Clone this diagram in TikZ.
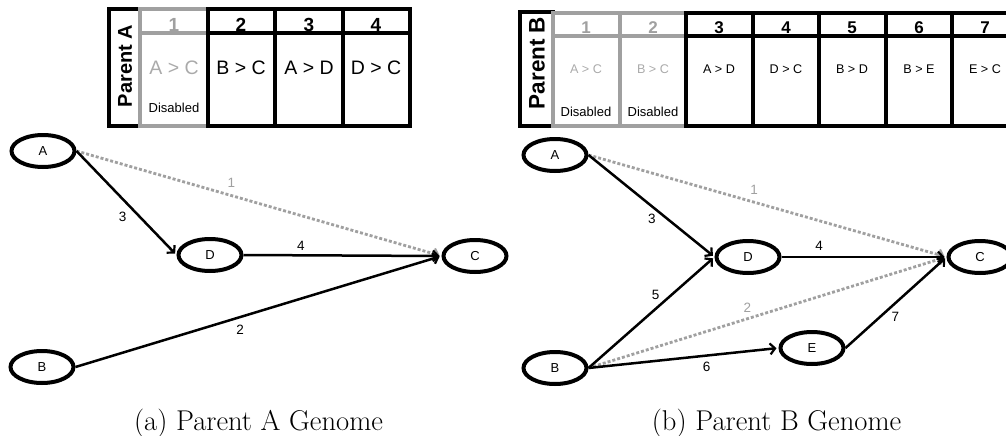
\documentclass[tikz,border=0pt]{standalone}
\usepackage{fontspec}
\newfontfamily\arial{Liberation Sans}
\usetikzlibrary{shapes.geometric,arrows.meta}
\definecolor{rulegrey}{HTML}{A0A0A0}
\definecolor{textgrey}{HTML}{AAAAAA}
\tikzset{
  tblblack/.style={draw=black, line width=4pt},
  tblgrey/.style={draw=rulegrey, line width=4pt},
  ptitle/.style={font=\arial\bfseries\fontsize{#1}{#1}\selectfont, rotate=90, inner sep=0pt},
  hnum/.style={font=\arial\bfseries\fontsize{#1}{#1}\selectfont, inner sep=0pt},
  gene/.style={font=\arial\fontsize{#1}{#1}\selectfont, inner sep=0pt},
  offtext/.style={text=textgrey},
  gnode/.style={ellipse, draw, line width=4pt, minimum width=63pt, minimum height=32pt,
    inner sep=0pt, font=\arial\fontsize{13}{13}\selectfont},
  conn/.style={line width=2.5pt, shorten >=2pt,
    -{Straight Barb[length=5pt,width=11pt,line width=2.2pt]}},
  offconn/.style={line width=2.8pt, draw=rulegrey, dash pattern=on 3pt off 2pt, shorten >=2pt,
    -{Straight Barb[length=5pt,width=11pt,line width=2pt]}},
  elabel/.style={font=\arial\fontsize{13.5}{13.5}\selectfont, inner sep=0pt},
  subcaption/.style={font=\fontsize{28.6}{34}\selectfont, anchor=base, inner sep=0pt}
}
\begin{document}
\begin{tikzpicture}[x=1pt,y=-1pt]
\useasboundingbox (0,0) rectangle (1006,436);
\clip (0,0) rectangle (1006,436);

% ---------- genome table of parent A ----------
\draw[tblblack] (109,9) rectangle (140,126);
\draw[tblgrey] (140,9) rectangle (207.5,126);
\draw[tblgrey] (140,33.5) -- (207.5,33.5);
\foreach \l/\r in {207.5/275, 275/342.5, 342.5/410} {
  \draw[tblblack] (\l,9) rectangle (\r,126);
  \draw[tblblack] (\l,33.5) -- (\r,33.5);
}
\node[ptitle=20] (pA) at (125,66) {Parent A};
\node[hnum=19, text=rulegrey] (ha1) at (174,25) {1};
\node[hnum=19] (ha2) at (241,25) {2};
\node[hnum=19] (ha3) at (309,25) {3};
\node[hnum=19] (ha4) at (376,25) {4};
\node[gene=19.5, offtext] (ga1) at (174,68) {A > C};
\node[gene=19.5] (ga2) at (241,68) {B > C};
\node[gene=19.5] (ga3) at (309,68) {A > D};
\node[gene=19.5] (ga4) at (376,68) {D > C};
\node[gene=13] (da1) at (174,108) {Disabled};

% ---------- genome table of parent B ----------
\draw[tblblack] (520,12) rectangle (553,126);
\foreach \l/\r in {553/619.5, 619.5/686} {
  \draw[tblgrey] (\l,13) rectangle (\r,126);
  \draw[tblgrey] (\l,36) -- (\r,36);
}
\foreach \l/\r in {686/752.5, 752.5/819, 819/885.5, 885.5/952, 952/1018.5} {
  \draw[tblblack] (\l,13) rectangle (\r,126);
  \draw[tblblack] (\l,36) -- (\r,36);
}
\node[ptitle=22.5] (pB) at (537,63) {Parent B};
\node[hnum=17, text=rulegrey] (hb1) at (586,28) {1};
\node[hnum=17, text=rulegrey] (hb2) at (653,28) {2};
\node[hnum=17] (hb3) at (719,28) {3};
\node[hnum=17] (hb4) at (786,28) {4};
\node[hnum=17] (hb5) at (852,28) {5};
\node[hnum=17] (hb6) at (919,28) {6};
\node[hnum=17] (hb7) at (985,28) {7};
\node[gene=12.6, offtext] (gb1) at (586,69) {A > C};
\node[gene=12.6, offtext] (gb2) at (653,69) {B > C};
\node[gene=12.6] (gb3) at (719,69) {A > D};
\node[gene=12.6] (gb4) at (786,69) {D > C};
\node[gene=12.6] (gb5) at (852,69) {B > D};
\node[gene=12.6] (gb6) at (919,69) {B > E};
\node[gene=12.6] (gb7) at (985,69) {E > C};
\node[gene=13] (db1) at (586,112) {Disabled};
\node[gene=13] (db2) at (653,112) {Disabled};

% ---------- network of parent A ----------
\node[gnode] (aA) at (43,151) {A};
\node[gnode] (aD) at (210,255) {D};
\node[gnode] (aC) at (475,256) {C};
\node[gnode] (aB) at (42,367) {B};
\draw[offconn] (aA.east) -- (aC.west)
  node[elabel, text=rulegrey, pos=0.415, shift={(3.3,-11.6)}] (la1) {1};
\draw[conn] (aA.east) -- (aD.west)
  node[elabel, pos=0.55, shift={(-8.75,8.75)}] (la3) {3};
\draw[conn] (aD.east) -- (aC.west)
  node[elabel, pos=0.29, shift={(0,-9.5)}] (la4) {4};
\draw[conn] (aB.east) -- (aC.west)
  node[elabel, pos=0.44, shift={(3.6,11.9)}] (la2) {2};

% ---------- network of parent B ----------
\node[gnode] (bA) at (555,155) {A};
\node[gnode] (bD) at (748,257) {D};
\node[gnode] (bC) at (980,257) {C};
\node[gnode] (bB) at (555,368) {B};
\node[gnode] (bE) at (812,348) {E};
\draw[offconn] (bA.east) -- (bC.west)
  node[elabel, text=rulegrey, pos=0.454, shift={(3.2,-11.3)}] (lb1) {1};
\draw[offconn] (bB.east) -- (bC.west)
  node[elabel, text=rulegrey, pos=0.452, shift={(-3,-9.9)}] (lb2) {2};
\draw[conn] (bA.east) -- (bD.west)
  node[elabel, pos=0.551, shift={(-6.1,7.8)}] (lb3) {3};
\draw[conn] (bD.east) -- (bC.west)
  node[elabel, pos=0.228, shift={(0,-11)}] (lb4) {4};
\draw[conn] (bB.east) -- (bD.west)
  node[elabel, pos=0.586, shift={(-6.7,-7.9)}] (lb5) {5};
\draw[conn] (bB.east) -- (bE.west)
  node[elabel, pos=0.615, shift={(1.2,11.3)}] (lb6) {6};
\draw[conn] (bE.east) -- (bC.west)
  node[elabel, pos=0.426, shift={(6.8,7.8)}] (lb7) {7};

% ---------- sub-captions ----------
\node[subcaption] (capA) at (258.5,430) {(a) Parent A Genome};
\node[subcaption] (capB) at (776.5,430) {(b) Parent B Genome};
\end{tikzpicture}
\end{document}
